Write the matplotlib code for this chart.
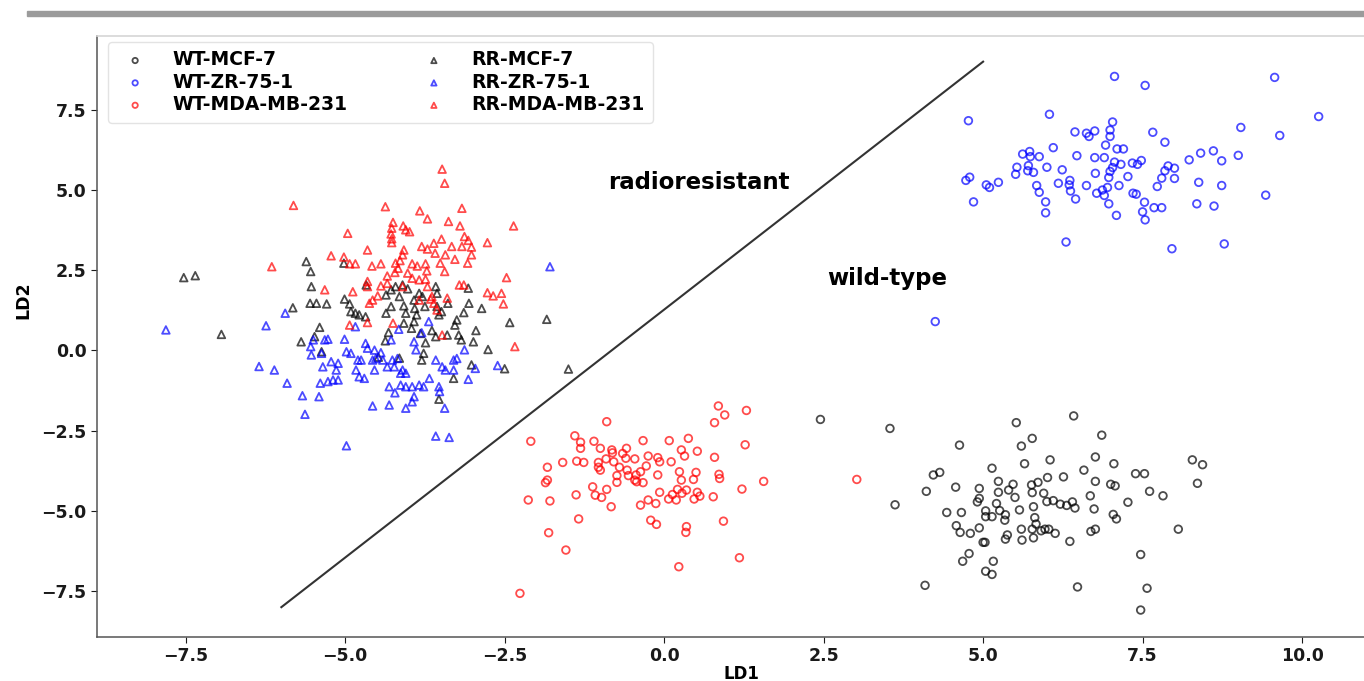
import numpy as np
import matplotlib.pyplot as plt
from matplotlib.patches import Rectangle

# LD1 / LD2 scores, one array per group
wt_mcf7 = np.array([
    [2.45, -2.15], [3.54, -2.43], [4.63, -2.95], [5.52, -2.25], [6.42, -2.04], [6.86, -2.64],
    [5.77, -2.74], [5.60, -2.98], [4.22, -3.88], [4.32, -3.80], [4.11, -4.39], [3.62, -4.81],
    [4.57, -4.26], [5.14, -3.67], [5.24, -4.08], [5.65, -3.53], [6.05, -3.41], [4.94, -4.30],
    [5.47, -4.17], [5.40, -4.35], [5.24, -4.42], [5.50, -4.58], [5.76, -4.19], [5.86, -4.11],
    [5.77, -4.43], [6.01, -3.96], [6.26, -3.94], [6.58, -3.73], [6.76, -3.32], [7.05, -3.53],
    [6.76, -4.08], [7.00, -4.17], [7.07, -4.22], [7.39, -3.84], [7.53, -3.84], [8.28, -3.41],
    [8.44, -3.56], [8.36, -4.14], [7.61, -4.39], [7.82, -4.53], [7.27, -4.73], [6.68, -4.53],
    [5.95, -4.45], [6.00, -4.71], [6.10, -4.68], [6.21, -4.79], [6.31, -4.83], [6.40, -4.72],
    [6.44, -4.91], [6.74, -4.94], [7.04, -5.11], [7.09, -5.25], [4.94, -4.61], [4.91, -4.72],
    [5.21, -4.77], [5.26, -4.99], [5.04, -5.00], [5.04, -5.18], [5.14, -5.18], [5.35, -5.12],
    [5.34, -5.29], [5.57, -4.97], [5.79, -4.87], [5.81, -5.21], [5.83, -5.41], [4.43, -5.05],
    [4.66, -5.05], [4.58, -5.46], [4.64, -5.67], [4.80, -5.70], [4.94, -5.53], [5.00, -5.98],
    [5.03, -5.98], [5.35, -5.88], [5.38, -5.75], [5.60, -5.57], [5.61, -5.91], [5.77, -5.57],
    [5.79, -5.84], [5.91, -5.62], [5.97, -5.57], [6.03, -5.57], [6.13, -5.70], [6.36, -5.95],
    [6.69, -5.64], [6.76, -5.57], [8.06, -5.57], [7.47, -6.36], [4.78, -6.33], [4.68, -6.57],
    [5.16, -6.57], [5.04, -6.88], [5.14, -6.98], [4.09, -7.32], [6.48, -7.37], [7.57, -7.41],
    [7.47, -8.09],
])

wt_zr751 = np.array([
    [7.06, 8.54], [7.54, 8.26], [9.57, 8.51], [10.26, 7.29], [4.77, 7.16], [6.04, 7.36],
    [7.03, 7.12], [6.99, 6.87], [6.99, 6.67], [6.44, 6.81], [6.62, 6.77], [6.66, 6.67],
    [6.75, 6.84], [7.66, 6.80], [7.85, 6.49], [9.04, 6.95], [9.65, 6.70], [6.10, 6.32],
    [6.92, 6.40], [7.10, 6.28], [7.20, 6.28], [6.47, 6.07], [6.75, 6.01], [6.90, 6.01],
    [5.62, 6.12], [5.73, 6.20], [5.74, 6.04], [5.88, 6.04], [6.00, 5.71], [6.24, 5.63],
    [5.53, 5.71], [5.51, 5.49], [5.71, 5.76], [5.70, 5.60], [5.79, 5.55], [4.73, 5.30],
    [4.79, 5.40], [5.05, 5.16], [5.10, 5.08], [5.24, 5.24], [4.85, 4.63], [5.84, 5.14],
    [5.88, 4.93], [5.98, 4.63], [5.98, 4.29], [6.18, 5.21], [6.36, 5.30], [6.35, 5.16],
    [6.37, 4.97], [6.45, 4.72], [6.30, 3.38], [6.62, 5.14], [6.76, 5.52], [6.78, 4.90],
    [6.87, 5.00], [6.90, 4.83], [6.95, 5.08], [6.97, 5.39], [6.99, 5.58], [7.03, 5.70],
    [7.06, 5.87], [7.13, 5.14], [7.16, 5.80], [7.27, 5.42], [6.97, 4.57], [7.09, 4.21],
    [7.34, 5.84], [7.42, 5.80], [7.48, 5.92], [7.35, 4.90], [7.40, 4.87], [7.53, 4.62],
    [7.50, 4.32], [7.54, 4.07], [7.68, 4.45], [7.80, 4.45], [7.73, 5.11], [7.80, 5.37],
    [7.85, 5.60], [7.90, 5.75], [8.00, 5.68], [8.00, 5.36], [7.96, 3.17], [8.23, 5.94],
    [8.41, 6.15], [8.61, 6.22], [8.74, 5.91], [9.00, 6.08], [8.38, 5.24], [8.74, 5.14],
    [8.35, 4.57], [8.62, 4.50], [9.43, 4.84], [8.78, 3.32], [4.25, 0.90],
])

wt_mda231 = np.array([
    [-0.90, -2.22], [0.85, -1.73], [0.95, -2.01], [1.29, -1.87], [0.79, -2.25], [-2.09, -2.83],
    [-1.40, -2.66], [-1.31, -2.86], [-1.31, -3.05], [-1.10, -2.83], [-1.00, -3.05], [-0.82, -3.10],
    [-0.81, -3.19], [-0.59, -3.05], [-0.65, -3.21], [-0.60, -3.36], [-0.33, -2.81], [0.08, -2.81],
    [0.38, -2.74], [0.27, -3.10], [0.32, -3.29], [0.52, -3.14], [0.79, -3.33], [1.27, -2.94],
    [-1.83, -3.64], [-1.59, -3.49], [-1.37, -3.45], [-1.26, -3.49], [-1.03, -3.49], [-1.03, -3.64],
    [-1.00, -3.73], [-0.91, -3.38], [-0.79, -3.47], [-0.70, -3.64], [-0.58, -3.73], [-0.46, -3.38],
    [-0.25, -3.29], [-0.10, -3.34], [-0.07, -3.47], [0.11, -3.47], [-0.28, -3.60], [-0.37, -3.78],
    [-0.74, -3.90], [-0.56, -3.90], [-0.44, -3.88], [-0.10, -3.88], [0.24, -3.78], [0.50, -3.80],
    [0.27, -4.04], [0.46, -4.02], [0.86, -3.86], [0.87, -3.99], [-1.83, -4.04], [-1.86, -4.12],
    [-0.74, -4.11], [-0.46, -4.04], [-0.43, -4.09], [-0.33, -4.12], [1.56, -4.08], [-1.12, -4.25],
    [-0.90, -4.33], [-1.08, -4.51], [-0.98, -4.58], [-1.38, -4.50], [-2.13, -4.66], [-1.79, -4.69],
    [-0.83, -4.87], [-0.37, -4.82], [-0.25, -4.66], [-0.13, -4.77], [-0.07, -4.42], [0.07, -4.63],
    [0.13, -4.49], [0.19, -4.66], [0.21, -4.33], [0.28, -4.45], [0.35, -4.35], [0.52, -4.42],
    [0.56, -4.54], [0.47, -4.63], [0.77, -4.56], [1.22, -4.32], [-1.34, -5.25], [-0.21, -5.29],
    [-0.12, -5.42], [0.35, -5.49], [0.34, -5.67], [0.93, -5.32], [-1.81, -5.68], [-1.54, -6.22],
    [0.23, -6.74], [1.18, -6.46], [-2.26, -7.57], [3.02, -4.02],
])

rr_mcf7 = np.array([
    [-7.53, 2.27], [-7.35, 2.33], [-6.94, 0.50], [-5.82, 1.33], [-5.69, 0.27], [-5.61, 2.77],
    [-5.53, 1.99], [-5.55, 1.47], [-5.45, 1.47], [-5.29, 1.45], [-5.02, 2.72], [-4.67, 2.04],
    [-5.01, 1.60], [-4.93, 1.45], [-4.91, 1.21], [-4.84, 1.16], [-4.78, 1.11], [-4.68, 1.05],
    [-5.40, 0.72], [-5.48, 0.43], [-5.37, -0.04], [-4.36, 1.73], [-4.28, 1.89], [-4.21, 1.99],
    [-4.10, 2.04], [-4.02, 1.92], [-4.15, 1.68], [-4.28, 1.37], [-4.36, 1.16], [-4.08, 1.39],
    [-4.05, 1.16], [-3.92, 1.57], [-3.91, 1.31], [-3.88, 1.11], [-3.92, 0.90], [-3.96, 0.69],
    [-4.08, 0.85], [-3.84, 1.78], [-3.79, 1.68], [-3.75, 1.37], [-3.58, 1.99], [-3.56, 1.78],
    [-3.56, 1.37], [-3.49, 1.21], [-3.53, 1.11], [-3.39, 1.47], [-3.07, 1.94], [-3.06, 1.47],
    [-3.14, 1.18], [-3.25, 0.95], [-3.28, 0.79], [-2.86, 1.31], [-2.42, 0.87], [-1.84, 0.97],
    [-4.32, 0.56], [-4.37, 0.30], [-3.82, 0.53], [-3.74, 0.24], [-3.77, -0.09], [-3.64, 0.62],
    [-3.58, 0.43], [-3.40, 0.48], [-3.22, 0.48], [-3.18, 0.33], [-2.99, 0.27], [-2.95, 0.62],
    [-2.76, 0.03], [-4.48, -0.21], [-4.15, -0.24], [-3.80, -0.30], [-3.02, -0.45], [-2.50, -0.57],
    [-3.30, -0.87], [-3.53, -1.52], [-5.54, 2.46], [-1.50, -0.58],
])

rr_zr751 = np.array([
    [-7.81, 0.64], [-5.94, 1.16], [-6.24, 0.77], [-6.35, -0.50], [-6.11, -0.61], [-5.91, -1.02],
    [-5.67, -1.41], [-5.63, -1.99], [-1.79, 2.61], [-5.50, 0.33], [-5.32, 0.33], [-5.27, 0.35],
    [-5.01, 0.35], [-5.54, 0.12], [-5.53, -0.14], [-5.37, -0.09], [-4.98, -0.04], [-4.91, -0.09],
    [-4.68, 0.22], [-4.65, 0.07], [-4.54, 0.01], [-4.44, -0.07], [-4.80, -0.30], [-4.75, -0.30],
    [-4.57, -0.30], [-5.35, -0.51], [-5.22, -0.35], [-5.11, -0.40], [-5.14, -0.61], [-5.39, -1.02],
    [-5.27, -0.97], [-5.19, -0.92], [-5.11, -0.92], [-5.41, -1.44], [-4.83, -0.61], [-4.78, -0.82],
    [-4.70, -0.87], [-4.54, -0.61], [-4.52, -0.25], [-4.41, -0.30], [-4.34, -0.51], [-4.26, -0.30],
    [-4.23, -0.51], [-4.10, -0.61], [-4.31, -1.13], [-4.22, -1.32], [-4.13, -1.08], [-4.05, -1.13],
    [-3.95, -1.13], [-3.84, -1.08], [-3.77, -1.13], [-3.68, -0.87], [-4.13, -0.71], [-4.05, -0.71],
    [-4.18, -0.25], [-3.92, 0.27], [-3.89, 0.02], [-3.92, -1.44], [-3.95, -1.60], [-4.05, -1.80],
    [-4.31, -1.70], [-4.57, -1.73], [-3.53, -1.13], [-3.52, -1.28], [-3.44, -1.80], [-3.58, -0.30],
    [-3.48, -0.51], [-3.43, -0.61], [-3.30, -0.61], [-3.30, -0.30], [-3.25, -0.25], [-3.13, 0.02],
    [-2.96, -0.56], [-3.07, -0.90], [-2.61, -0.47], [-3.80, 0.55], [-3.69, 0.90], [-4.16, 0.66],
    [-4.84, 0.74], [-4.28, 0.33], [-3.58, -2.67], [-3.37, -2.71], [-4.98, -2.97],
])

rr_mda231 = np.array([
    [-5.81, 4.52], [-6.15, 2.61], [-3.48, 5.65], [-3.44, 5.21], [-4.37, 4.48], [-3.83, 4.35],
    [-3.71, 4.10], [-3.38, 4.02], [-3.17, 4.43], [-3.20, 3.88], [-2.36, 3.88], [-4.96, 3.65],
    [-4.25, 3.99], [-4.27, 3.81], [-4.28, 3.63], [-4.27, 3.48], [-4.27, 3.36], [-4.09, 3.88],
    [-4.05, 3.76], [-3.99, 3.70], [-4.65, 3.13], [-4.08, 3.13], [-4.10, 2.98], [-3.80, 3.24],
    [-3.71, 3.16], [-3.61, 3.34], [-3.49, 3.47], [-3.59, 3.03], [-3.33, 3.24], [-3.17, 3.24],
    [-3.13, 3.55], [-3.07, 3.43], [-3.02, 3.22], [-3.02, 2.98], [-2.77, 3.36], [-3.43, 2.98],
    [-3.28, 2.84], [-3.08, 2.72], [-5.22, 2.95], [-5.02, 2.91], [-4.93, 2.70], [-4.84, 2.70],
    [-4.58, 2.63], [-4.44, 2.70], [-4.21, 2.72], [-4.14, 2.80], [-4.17, 2.56], [-4.22, 2.43],
    [-3.95, 2.70], [-3.87, 2.63], [-3.74, 2.70], [-3.51, 2.72], [-3.44, 2.46], [-3.72, 2.48],
    [-4.02, 2.41], [-3.95, 2.25], [-3.84, 2.20], [-3.74, 2.22], [-4.34, 2.32], [-4.65, 2.15],
    [-4.65, 1.99], [-4.44, 2.01], [-4.34, 2.09], [-4.10, 1.99], [-3.71, 1.99], [-3.21, 2.04],
    [-3.14, 2.04], [-2.47, 2.27], [-2.77, 1.80], [-2.68, 1.70], [-2.55, 1.78], [-2.52, 1.45],
    [-4.88, 1.83], [-5.32, 1.89], [-3.40, 1.63], [-3.66, 1.60], [-3.61, 1.47], [-3.56, 1.26],
    [-3.64, 1.68], [-4.62, 1.47], [-4.57, 1.57], [-4.49, 1.70], [-4.25, 0.85], [-4.65, 0.87],
    [-4.93, 0.79], [-3.48, 0.48], [-2.34, 0.12], [-3.84, 1.57],
])

groups = [
    ('WT-MCF-7', wt_mcf7, 'o', 'black'),
    ('WT-ZR-75-1', wt_zr751, 'o', 'blue'),
    ('WT-MDA-MB-231', wt_mda231, 'o', 'red'),
    ('RR-MCF-7', rr_mcf7, '^', 'black'),
    ('RR-ZR-75-1', rr_zr751, '^', 'blue'),
    ('RR-MDA-MB-231', rr_mda231, '^', 'red'),
]

# separating line between the two regions
line_x = [-6.0, 5.0]
line_y = [-8.0, 9.0]

plt.rcParams['font.family'] = 'DejaVu Sans'
plt.rcParams['font.weight'] = 'bold'

fig = plt.figure(figsize=(13.64, 6.81), dpi=100)
ax = fig.add_axes([97 / 1364, 1 - 637 / 681, 1288 / 1364, 601 / 681])

for name, pts, mk, col in groups:
    ax.scatter(pts[:, 0], pts[:, 1], s=30, marker=mk, facecolors='none',
               edgecolors=col, linewidths=1.3, alpha=0.7, label=name)

ax.plot(line_x, line_y, color='#333333', linewidth=1.5)

ax.text(0.55, 5.22, 'radioresistant', ha='center', va='center',
        fontsize=16.5, fontweight='bold')
ax.text(3.5, 2.25, 'wild-type', ha='center', va='center',
        fontsize=16.5, fontweight='bold')

ax.set_xlim(-8.89, 11.3)
ax.set_ylim(-8.93, 9.8)
ax.set_xticks(np.arange(-7.5, 10.1, 2.5))
ax.set_yticks(np.arange(-7.5, 7.6, 2.5))
ax.tick_params(labelsize=12.5, colors='#1a1a1a', length=4)
ax.tick_params(axis='x', pad=3)
for lab in ax.get_xticklabels() + ax.get_yticklabels():
    lab.set_fontweight('bold')

ax.set_xlabel('LD1', fontsize=12, fontweight='bold')
ax.xaxis.set_label_coords(0.5, -0.046)
ax.set_ylabel('LD2', fontsize=12.5, fontweight='bold')
ax.yaxis.set_label_coords(-0.05, 0.56)

ax.spines['right'].set_visible(False)
ax.spines['top'].set_color('#d6d6d6')
ax.spines['top'].set_linewidth(1.2)
for side in ['left', 'bottom']:
    ax.spines[side].set_color('#555555')
    ax.spines[side].set_linewidth(1.1)

leg = ax.legend(ncol=2, loc='upper left', bbox_to_anchor=(0.0085, 0.99),
                borderaxespad=0, fontsize=13.5, markerscale=0.7,
                labelspacing=0.18, handlelength=2.0, handletextpad=1.0,
                columnspacing=3.6, borderpad=0.45, frameon=True, fancybox=True)
leg.get_frame().set_edgecolor('#dddddd')
for t in leg.get_texts():
    t.set_fontweight('bold')

# grey rule at the top of the screenshot
fig.patches.append(Rectangle((27 / 1364, 1 - 16 / 681), 1.0, 4.5 / 681,
                             transform=fig.transFigure, color='#9b9b9b'))

fig.savefig('out.png', dpi=100)
